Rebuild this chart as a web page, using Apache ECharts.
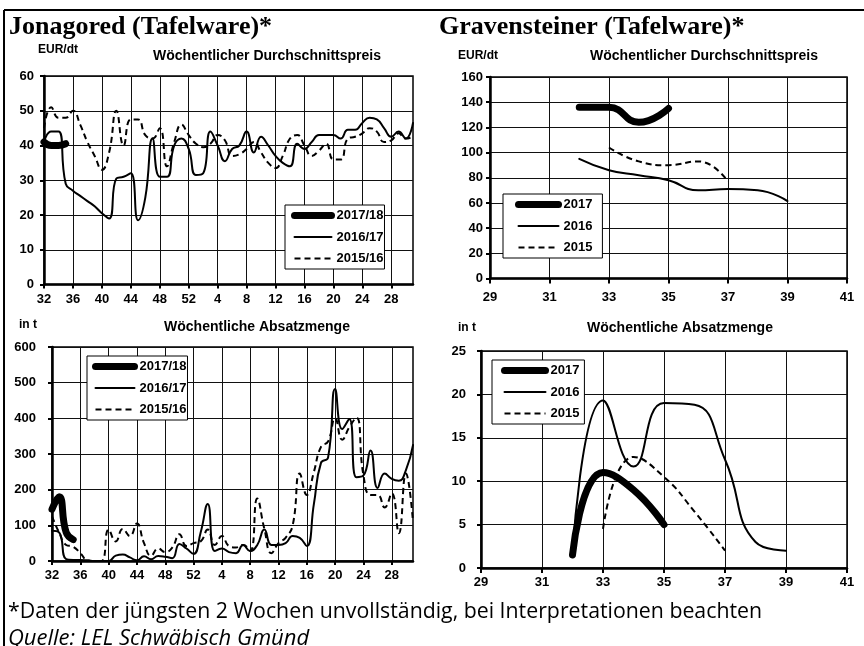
<!DOCTYPE html>
<html>
<head>
<meta charset="utf-8">
<script src="https://cdn.jsdelivr.net/npm/echarts@6/dist/echarts.min.js"></script>
<style>
  html, body { margin: 0; padding: 0; background: #fff; }
  #c { width: 864px; height: 646px; }
</style>
</head>
<body>
<div id="c"></div>
<script>
// ---------- DATA ----------
const weeksJ = ['32','33','34','35','36','37','38','39','40','41','42','43','44','45','46','47','48','49','50','51','52',
  '1','2','3','4','5','6','7','8','9','10','11','12','13','14','15','16','17','18','19','20','21','22','23','24','25','26','27','28','29','30','31'];

const seasonsJ = ['2017/18', '2016/17', '2015/16'];
const seasonsG = ['2017', '2016', '2015'];

// Jonagored price (EUR/dt)
const priceJ_2017 = [41, 40, 40, 40.5];
const priceJ_2016 = [41, 44, 44, 29, 27, 25.5, 24, 22.5, 20.5, 19,
  30.5, 31, 32, 18.5, 25, 42, 31, 31, 40, 42,
  39, 31.5, 32, 44, 40, 35.5, 39, 40, 44, 38,
  42.5, 40, 37, 35, 34, 40.5, 39, 41, 43, 43,
  43, 42, 44.5, 44.5, 46.5, 48, 47.5, 45, 42.5, 44,
  42, 46.5];
const priceJ_2015 = [45, 51, 48, 48, 50, 46, 41, 37, 33, 38,
  50, 40, 47.5, 47.5, 43, 42, 45, 34, 41, 46,
  43, 40.5, 39.5, 40.5, 43, 41.5, 37, 37.5, 39, 41,
  38, 35, 33.5, 37, 42, 43, 40, 37, 38.5, 40.5,
  36, 36, 42, 42.5, 43.5, 45, 44, 41, 41.5, 43.5,
  42, 42.5];

// Jonagored volume (t)
const volJ_2017 = [145, 180, 80, 60];
const volJ_2016 = [85, 80, 5, 3, 3, 2, 0, 0, 0, 15,
  18, 10, 2, 13, 5, 14, 12, 8, 48, 35,
  20, 80, 160, 28, 35, 25, 22, 45, 28, 45,
  88, 45, 45, 50, 70, 65, 42, 160, 275, 290,
  482, 370, 398, 235, 240, 310, 205, 245, 230, 225,
  255, 325];
const volJ_2015 = [125, 80, 45, 40, 22, 2, 0, 0, 88, 55,
  90, 70, 105, 50, 15, 35, 25, 38, 75, 42,
  50, 55, 88, 45, 70, 42, 38, 45, 28, 175,
  90, 22, 50, 65, 100, 245, 185, 250, 320, 335,
  400, 340, 375, 402, 240, 185, 185, 150, 190, 78,
  245, 110];

// Gravensteiner
const weeksG_2017 = [32, 33, 34, 35];
const priceG_2017 = [136, 136, 124, 135];
const volG_2017 = [1.5, 11, 9, 5];
const weeksG_2016 = [32, 33, 34, 35, 36, 37, 38, 39];
const priceG_2016 = [95, 86, 82, 78, 70, 71, 70, 61.5];
const volG_2016 = [1.7, 19.3, 11.7, 19.0, 18.8, 12.5, 3, 2];
const weeksG_2015 = [33, 34, 35, 36, 37];
const priceG_2015 = [104, 93, 90, 93, 77];
const volG_2015 = [4.5, 12.8, 10.5, 6.5, 2];

// ---------- CHART ----------
const SANS = '"Liberation Sans", Arial, sans-serif';
const chart = echarts.init(document.getElementById('c'), null, { renderer: 'canvas', width: 864, height: 646 });

function pairs(xs, ys) { return xs.map((x, i) => [x, ys[i]]); }

const styles = {
  thick: { color: '#000', width: 7, type: 'solid', cap: 'round', join: 'round' },
  solid: { color: '#000', width: 2, type: 'solid', cap: 'round', join: 'round' },
  dash:  { color: '#000', width: 2, type: [6, 4], cap: 'butt', join: 'round' }
};
function line(name, idx, data, kind, z) {
  return {
    type: 'line', name: name, xAxisIndex: idx, yAxisIndex: idx, data: data,
    smooth: 0.5, symbol: 'none', showSymbol: false, silent: true, animation: false,
    lineStyle: styles[kind], itemStyle: { color: '#000' }, z: z, connectNulls: false
  };
}

const gridBase = { show: true, borderColor: '#000', borderWidth: 1.5, backgroundColor: 'transparent' };
const grids = [
  Object.assign({ left: 44, top: 76, width: 369, height: 208.5 }, gridBase),
  Object.assign({ left: 490, top: 77, width: 357, height: 201.5 }, gridBase),
  Object.assign({ left: 52, top: 347, width: 361, height: 214 }, gridBase),
  Object.assign({ left: 481, top: 351, width: 366, height: 217 }, gridBase)
];

function catX(gi, margin) {
  return {
    type: 'category', gridIndex: gi, data: weeksJ, boundaryGap: false,
    axisLine: { show: true, lineStyle: { color: '#000', width: 2.5 } },
    axisTick: { show: true, interval: 3, length: 4, lineStyle: { color: '#000', width: 2 } },
    axisLabel: { interval: 3, color: '#000', fontFamily: SANS, fontWeight: 'bold', fontSize: 13, margin: margin },
    splitLine: { show: true, interval: 3, lineStyle: { color: '#111', width: 1 } }
  };
}
function valX(gi, margin) {
  return {
    type: 'value', gridIndex: gi, min: 29, max: 41, interval: 2,
    axisLine: { show: true, lineStyle: { color: '#000', width: 2.5 } },
    axisTick: { show: true, length: 5, lineStyle: { color: '#000', width: 2 } },
    axisLabel: { color: '#000', fontFamily: SANS, fontWeight: 'bold', fontSize: 13, margin: margin, showMaxLabel: true, showMinLabel: true },
    splitLine: { show: true, lineStyle: { color: '#111', width: 1 } }
  };
}
function valY(gi, max, interval, margin) {
  return {
    type: 'value', gridIndex: gi, min: 0, max: max, interval: interval,
    axisLine: { show: true, lineStyle: { color: '#000', width: 2.5 } },
    axisTick: { show: true, length: 4, lineStyle: { color: '#000', width: 2 } },
    axisLabel: { color: '#000', fontFamily: SANS, fontWeight: 'bold', fontSize: 13, margin: margin },
    splitLine: { show: true, lineStyle: { color: '#111', width: 1 } }
  };
}

function legend(names, left, top, padding, itemWidth) {
  return {
    data: names, orient: 'vertical', left: left, top: top, padding: padding,
    itemWidth: itemWidth, itemHeight: 14, itemGap: 8.5,
    backgroundColor: '#fff', borderColor: '#000', borderWidth: 1, borderRadius: 0,
    selectedMode: false,
    textStyle: { color: '#000', fontFamily: SANS, fontWeight: 'bold', fontSize: 13 },
    itemStyle: { color: 'rgba(0,0,0,0)', borderColor: 'rgba(0,0,0,0)', borderWidth: 0 },
    lineStyle: { width: 'inherit', type: 'inherit', color: 'inherit', cap: 'inherit' }
  };
}

function txt(x, y, text, font, align) {
  return { type: 'text', x: x, y: y, silent: true,
    style: { text: text, font: font, fill: '#000', align: align || 'left', verticalAlign: 'middle' } };
}

const option = {
  animation: false,
  backgroundColor: '#fff',
  grid: grids,
  xAxis: [catX(0, 8), valX(1, 12), catX(2, 8), valX(3, 8)],
  yAxis: [valY(0, 60, 10, 10), valY(1, 160, 20, 7), valY(2, 600, 100, 16), valY(3, 25, 5, 15)],
  legend: [
    legend(seasonsJ, 285, 205, [4, 1, 4, 6], 37),
    legend(seasonsG, 503, 194, [4, 10, 4, 12], 40),
    legend(seasonsJ, 87, 356, [4, 1, 4, 5], 39),
    legend(seasonsG, 492, 360, [4, 5, 4, 9], 41)
  ],
  series: [
    line('2015/16', 0, priceJ_2015, 'dash', 2),
    line('2016/17', 0, priceJ_2016, 'solid', 3),
    line('2017/18', 0, priceJ_2017, 'thick', 4),

    line('2015', 1, pairs(weeksG_2015, priceG_2015), 'dash', 2),
    line('2016', 1, pairs(weeksG_2016, priceG_2016), 'solid', 3),
    line('2017', 1, pairs(weeksG_2017, priceG_2017), 'thick', 4),

    line('2015/16', 2, volJ_2015, 'dash', 2),
    line('2016/17', 2, volJ_2016, 'solid', 3),
    line('2017/18', 2, volJ_2017, 'thick', 4),

    line('2015', 3, pairs(weeksG_2015, volG_2015), 'dash', 2),
    line('2016', 3, pairs(weeksG_2016, volG_2016), 'solid', 3),
    line('2017', 3, pairs(weeksG_2017, volG_2017), 'thick', 4)
  ],
  graphic: [
    { type: 'line', silent: true, shape: { x1: 4, y1: 10, x2: 864, y2: 10 }, style: { stroke: '#000', lineWidth: 2 } },
    { type: 'line', silent: true, shape: { x1: 4, y1: 10, x2: 4, y2: 646 }, style: { stroke: '#000', lineWidth: 2 } },
    txt(9, 27, 'Jonagored (Tafelware)*', 'bold 26px "Liberation Serif", serif'),
    txt(439, 27, 'Gravensteiner (Tafelware)*', 'bold 26px "Liberation Serif", serif'),
    txt(38, 50, 'EUR/dt', 'bold 12px ' + SANS),
    txt(267, 56, 'Wöchentlicher Durchschnittspreis', 'bold 14px ' + SANS, 'center'),
    txt(458, 56, 'EUR/dt', 'bold 12px ' + SANS),
    txt(704, 56, 'Wöchentlicher Durchschnittspreis', 'bold 14px ' + SANS, 'center'),
    txt(19, 325, 'in t', 'bold 12px ' + SANS),
    txt(257, 327, 'Wöchentliche Absatzmenge', 'bold 14px ' + SANS, 'center'),
    txt(458, 328, 'in t', 'bold 12px ' + SANS),
    txt(680, 328, 'Wöchentliche Absatzmenge', 'bold 14px ' + SANS, 'center'),
    txt(8, 612, '*Daten der jüngsten 2 Wochen unvollständig, bei Interpretationen beachten', '21.3px "Open Sans", Lato, sans-serif'),
    txt(8, 639, 'Quelle: LEL Schwäbisch Gmünd', 'italic 22px "Open Sans", Lato, sans-serif')
  ]
};
chart.setOption(option);
</script>
</body>
</html>
